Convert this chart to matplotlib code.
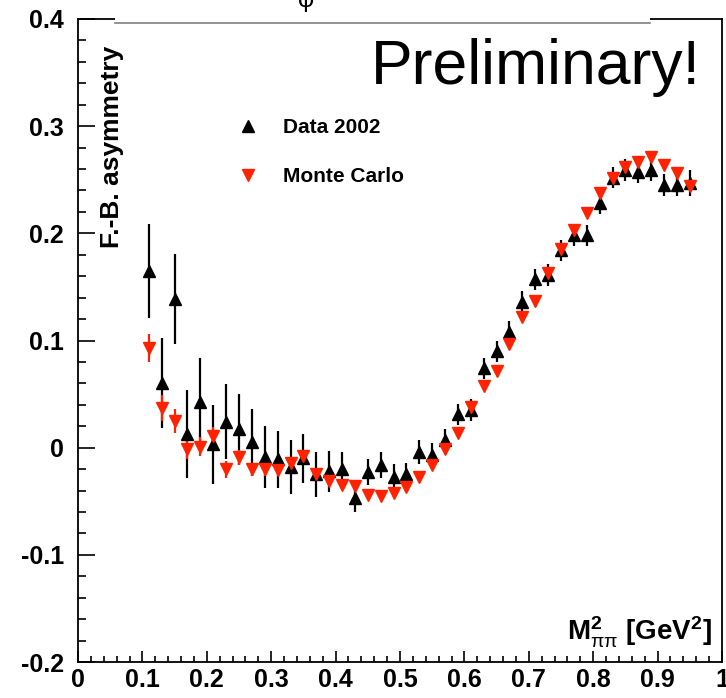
import numpy as np
import matplotlib
matplotlib.use("Agg")
import matplotlib.pyplot as plt
from matplotlib.lines import Line2D
from matplotlib.patches import Rectangle

plt.rcParams['font.family'] = ['Liberation Sans', 'DejaVu Sans']
plt.rcParams['mathtext.fontset'] = 'custom'
plt.rcParams['mathtext.rm'] = 'Liberation Sans'
plt.rcParams['mathtext.bf'] = 'Liberation Sans:bold'
plt.rcParams['mathtext.it'] = 'Liberation Sans:italic'

# bin centres in M^2_pipi [GeV^2]
mass2 = np.round(np.arange(0.11, 0.96, 0.02), 2)

data_2002 = [0.165, 0.060, 0.139, 0.013, 0.043, 0.003, 0.024, 0.017, 0.005, -0.009,
             -0.011, -0.018, -0.010, -0.025, -0.022, -0.020, -0.047, -0.023, -0.016, -0.027,
             -0.025, -0.004, -0.007, 0.007, 0.031, 0.035, 0.074, 0.090, 0.108, 0.136,
             0.157, 0.161, 0.184, 0.198, 0.198, 0.228, 0.252, 0.259, 0.257, 0.259,
             0.245, 0.245, 0.247]
data_err = [0.044, 0.042, 0.042, 0.041, 0.041, 0.037, 0.035, 0.033, 0.031, 0.029,
            0.027, 0.025, 0.023, 0.021, 0.019, 0.016, 0.013, 0.012, 0.012, 0.012,
            0.011, 0.011, 0.011, 0.010, 0.010, 0.010, 0.010, 0.010, 0.010, 0.010,
            0.010, 0.010, 0.010, 0.010, 0.010, 0.010, 0.010, 0.010, 0.010, 0.010,
            0.010, 0.010, 0.012]

monte_carlo = [0.093, 0.037, 0.025, -0.001, 0.001, 0.011, -0.020, -0.009, -0.020, -0.020,
               -0.021, -0.014, -0.008, -0.025, -0.031, -0.035, -0.036, -0.044, -0.045, -0.042,
               -0.037, -0.027, -0.016, -0.001, 0.014, 0.038, 0.058, 0.072, 0.097, 0.122,
               0.137, 0.163, 0.185, 0.203, 0.219, 0.238, 0.252, 0.262, 0.267, 0.271,
               0.264, 0.256, 0.244]
mc_err = [0.013, 0.012, 0.011, 0.010, 0.009, 0.008, 0.008, 0.007, 0.006, 0.006,
          0.005, 0.005, 0.005, 0.005, 0.004, 0.004, 0.004, 0.004, 0.004, 0.004,
          0.004, 0.004, 0.004, 0.004, 0.004, 0.004, 0.004, 0.004, 0.004, 0.004,
          0.004, 0.004, 0.004, 0.004, 0.004, 0.004, 0.004, 0.004, 0.004, 0.004,
          0.004, 0.004, 0.004]

red = '#ff2200'

fig = plt.figure(figsize=(7.26, 6.98), dpi=100)
ax = fig.add_axes([78/726, 1-662/698, 644/726, 643/698])

ax.errorbar(mass2, data_2002, yerr=data_err, fmt='^', color='black', ms=9,
            elinewidth=1.6, capsize=0)
ax.errorbar(mass2, monte_carlo, yerr=mc_err, fmt='v', color=red, ms=9,
            elinewidth=1.6, capsize=0)

ax.set_xlim(0, 1)
ax.set_ylim(-0.2, 0.4)
ax.set_xticks(np.arange(0, 1.01, 0.1))
ax.set_xticklabels(['0', '0.1', '0.2', '0.3', '0.4', '0.5', '0.6', '0.7', '0.8', '0.9', '1'])
ax.set_xticks(np.arange(0, 1.001, 0.02), minor=True)
ax.set_yticks(np.arange(-0.2, 0.41, 0.1))
ax.set_yticklabels(['-0.2', '-0.1', '0', '0.1', '0.2', '0.3', '0.4'])
ax.set_yticks(np.arange(-0.2, 0.401, 0.02), minor=True)

ax.tick_params(axis='both', which='both', direction='in', width=1.2, labelsize=18)
ax.tick_params(axis='y', which='major', length=12, pad=10)
ax.tick_params(axis='y', which='minor', length=6)
ax.tick_params(axis='x', which='major', length=8, pad=4)
ax.tick_params(axis='x', which='minor', length=4)
for lab in ax.get_xticklabels() + ax.get_yticklabels():
    lab.set_fontweight('bold')
for sp in ax.spines.values():
    sp.set_linewidth(1.3)

ax.text(0.053, 0.281, 'F.-B. asymmetry', rotation=90, ha='center', va='center',
        fontsize=19, fontweight='bold')
ax.text(0.985, -0.172, r'$\mathbf{M}^{\mathbf{2}}_{\mathrm{\pi\pi}}$ [GeV$^{\mathbf{2}}$]',
        ha='right', va='center', fontsize=20, fontweight='bold')
ax.text(0.967, 0.339, 'Preliminary!', ha='right', va='baseline', fontsize=45)

handles = [Line2D([], [], marker='^', ls='none', color='black', ms=9),
           Line2D([], [], marker='v', ls='none', color=red, ms=9)]
ax.legend(handles, ['Data 2002', 'Monte Carlo'], loc='upper left',
          bbox_to_anchor=(0.231, 0.862), frameon=False, borderpad=0,
          handlelength=1.0, handletextpad=1.2, labelspacing=1.45,
          prop={'size': 15, 'weight': 'bold'})

# title box of the original canvas, cut at the top
fig.add_artist(Rectangle((115/726, 1-22.6/698), (650-115)/726, 22.6/698,
                         transform=fig.transFigure, facecolor='white',
                         edgecolor='none', zorder=5))
fig.add_artist(Line2D([115/726, 650/726], [1-22.6/698, 1-22.6/698],
                      transform=fig.transFigure, color='gray', lw=1.2, zorder=6))
fig.text(306/726, 1.0, 'φ', ha='center', va='center', fontsize=18, zorder=7)

fig.savefig('out.png', dpi=100)
